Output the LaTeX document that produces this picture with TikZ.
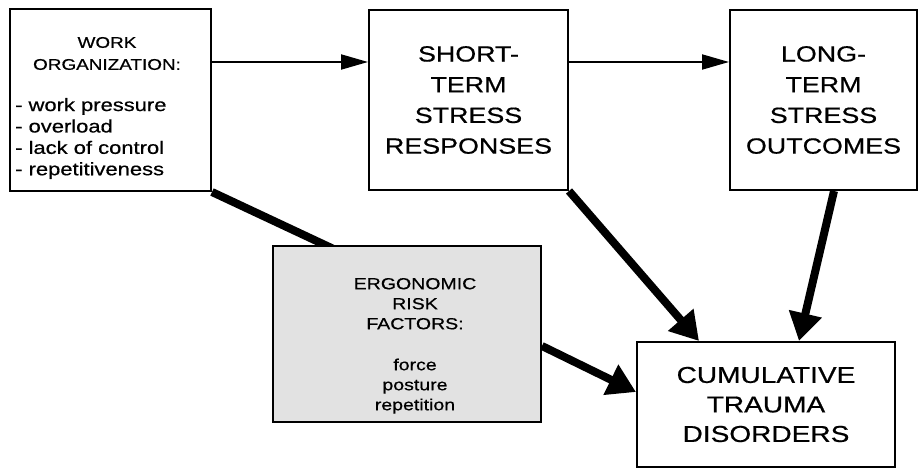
\documentclass[tikz,border=0pt]{standalone}
\usepackage{fontspec}
\newfontfamily\diag[FakeStretch=1.22,FakeBold=0.6]{Liberation Sans}
\usetikzlibrary{arrows.meta}
\definecolor{ergofill}{RGB}{226,226,226}
\begin{document}
\begin{tikzpicture}[x=1pt,y=-1pt,
  box/.style={draw=black,line width=2pt,fill=white,inner sep=0pt,align=center,
    font=\diag\fontsize{22}{30.7}\selectfont},
  txt/.style={inner sep=0pt,font=\diag},
  thin/.style={line width=2pt,-{Triangle[length=27pt,width=15pt]}},
  thick/.style={line width=8pt,-{Triangle[length=28pt,width=32pt]}},
  thickline/.style={line width=8pt}]
\useasboundingbox (0,0) rectangle (919,470);

% top row
\node[box,minimum width=201pt,minimum height=182pt] (wo) at (110.5,100) {};
\node[txt,align=center,font=\diag\fontsize{15.5}{22}\selectfont] (wohead) at (107,53.5)
  {WORK\\ORGANIZATION:};
\node[txt,align=left,anchor=west,font=\diag\fontsize{18}{21.4}\selectfont] (wolist) at (15,138.5)
  {- work pressure\\- overload\\- lack of control\\- repetitiveness};

\node[box,minimum width=199pt,minimum height=180pt] (short) at (468.5,100)
  {SHORT-\\TERM\\STRESS\\RESPONSES};
\node[box,minimum width=187pt,minimum height=180pt] (long) at (823.5,100)
  {LONG-\\TERM\\STRESS\\OUTCOMES};

% link from work organization into the ergonomic factors (passes under the box)
\coordinate (ergoentry) at (340,252);
\draw[thickline] (wo.south east) -- (ergoentry);

% ergonomic risk factors
\node[draw=black,line width=2pt,fill=ergofill,minimum width=268pt,minimum height=176pt,inner sep=0pt]
  (ergo) at (407,334) {};
\node[txt,align=center,font=\diag\fontsize{16}{20}\selectfont] (ergotext) at (415,345.8)
  {ERGONOMIC\\RISK\\FACTORS:\\[21pt]force\\posture\\repetition};

% outcome
\node[box,minimum width=258pt,minimum height=125pt,font=\diag\fontsize{23}{29.5}\selectfont]
  (ctd) at (766,404.5) {CUMULATIVE\\TRAUMA\\DISORDERS};

% connectors (shifts are in page units: positive yshift moves up)
\draw[thin] ([yshift=38pt]wo.east) -- ([yshift=38pt]short.west);
\draw[thin] ([yshift=38pt]short.east) -- ([yshift=38pt]long.west);
\draw[thick] (short.south east) -- ([xshift=63pt]ctd.north west);
\draw[thick] ([xshift=105pt]long.south west) -- ([xshift=163pt]ctd.north west);
\draw[thick] ([yshift=-12pt]ergo.east) -- ([yshift=12.5pt]ctd.west);
\end{tikzpicture}
\end{document}
